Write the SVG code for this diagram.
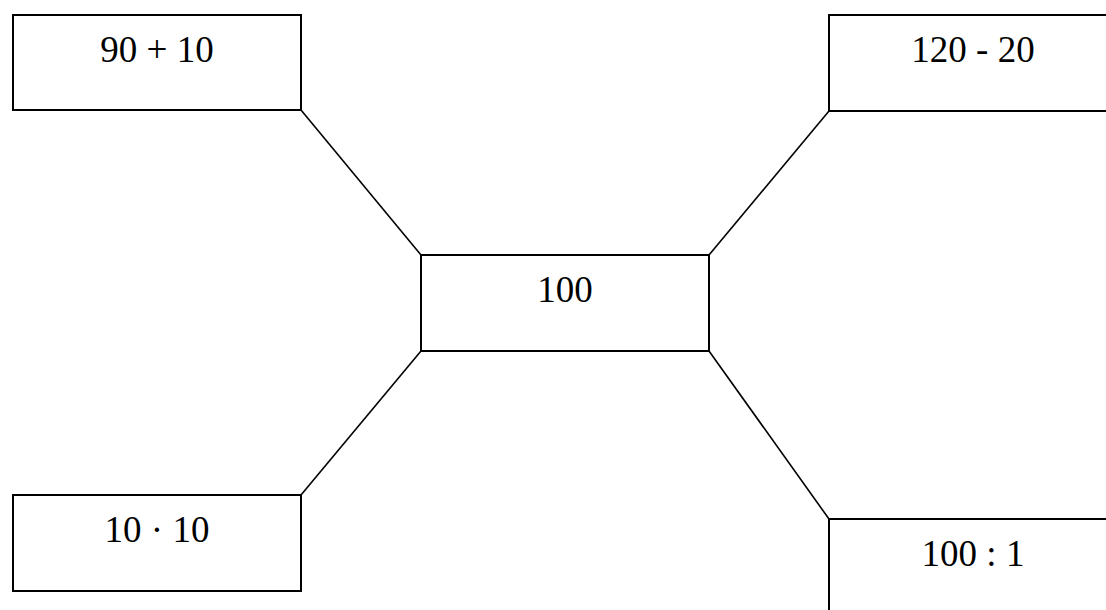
<svg xmlns="http://www.w3.org/2000/svg" width="1106" height="610" viewBox="0 0 1106 610">
<style>
rect{fill:#fff;stroke:#000;stroke-width:2}
line{stroke:#000;stroke-width:1.6}
text{font-family:"Liberation Serif","Times New Roman",serif;font-size:37px;text-anchor:middle;fill:#000}
</style>
<rect x="0" y="0" width="1106" height="610" style="stroke:none"/>
<g id="connectors">
<line x1="301" y1="110" x2="421" y2="255"/>
<line x1="829" y1="111" x2="709" y2="255"/>
<line x1="421" y1="351" x2="301" y2="495"/>
<line x1="709" y1="351" x2="829" y2="519"/>
</g>
<g id="n-center"><rect x="421" y="255" width="288" height="96"/><text x="565" y="302">100</text></g>
<g id="n-tl"><rect x="13" y="15" width="288" height="95"/><text x="157" y="62">90 + 10</text></g>
<g id="n-tr"><rect x="829" y="15" width="288" height="96"/><text x="973" y="62">120 - 20</text></g>
<g id="n-bl"><rect x="13" y="495" width="288" height="96"/><text x="157" y="542">10 · 10</text></g>
<g id="n-br"><rect x="829" y="519" width="288" height="96"/><text x="973" y="566">100 : 1</text></g>
</svg>
